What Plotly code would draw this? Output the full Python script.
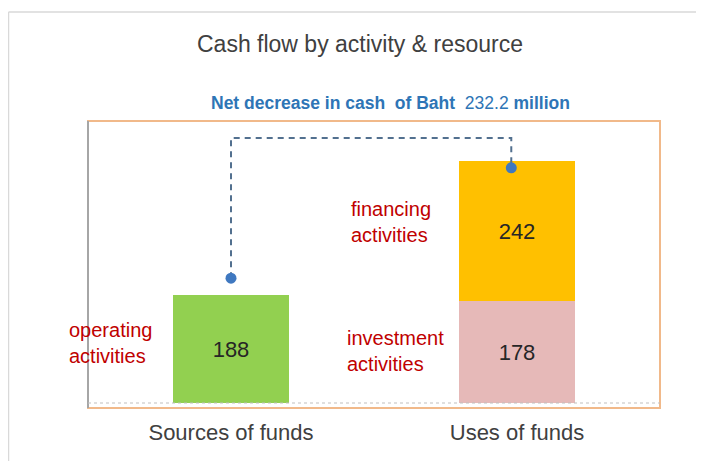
import plotly.graph_objects as go

# ---- data ----
categories = ["Sources of funds", "Uses of funds"]
cat_pos = [0, 1]
operating = [188]
investment = [178]
financing = [242]
segment_labels = ["operating<br>activities", "investment<br>activities", "financing<br>activities"]
title_text = "Cash flow by activity &amp; resource"
subtitle_text = "<b>Net decrease in cash  of Baht </b> 232.2 <b>million</b>"
connector_x = [0, 0, 0.98, 0.98]
connector_y = [217, 461, 461, 409]

FONT = "Liberation Sans"
TXT = "#262626"

fig = go.Figure()
fig.add_trace(go.Bar(x=[cat_pos[0]], y=operating, marker=dict(color="#92D050", line_width=0),
                     width=0.405, text=operating, textposition="inside", insidetextanchor="middle",
                     textfont=dict(size=22, color=TXT, family=FONT), textangle=0,
                     hoverinfo="skip", showlegend=False))
fig.add_trace(go.Bar(x=[cat_pos[1]], y=investment, marker=dict(color="#E6B9B8", line_width=0),
                     width=0.405, text=investment, textposition="inside", insidetextanchor="middle",
                     textfont=dict(size=22, color=TXT, family=FONT), textangle=0,
                     hoverinfo="skip", showlegend=False))
fig.add_trace(go.Bar(x=[cat_pos[1]], y=financing, marker=dict(color="#FFC000", line_width=0),
                     width=0.405, text=financing, textposition="inside", insidetextanchor="middle",
                     textfont=dict(size=22, color=TXT, family=FONT), textangle=0,
                     hoverinfo="skip", showlegend=False))

# connector
fig.add_trace(go.Scatter(x=connector_x, y=connector_y, mode="lines",
                         line=dict(color="#52708F", width=2, dash="6px,5px"),
                         hoverinfo="skip", showlegend=False, cliponaxis=False))
fig.add_trace(go.Scatter(x=[connector_x[0], connector_x[-1]], y=[connector_y[0], connector_y[-1]],
                         mode="markers", marker=dict(color="#3F78C0", size=11),
                         hoverinfo="skip", showlegend=False, cliponaxis=False))

# px helpers in window coordinates (page body has an 8px margin); plot area x:88..660, y:121..408
def px(xp):
    return (xp - 88) / 572
def py(yp):
    return (408 - yp) / 287

shapes = [
    # outer frame
    dict(type="line", xref="paper", yref="paper", x0=px(8.5), x1=px(704), y0=py(12), y1=py(12),
         line=dict(color="#D9D9D9", width=1.5)),
    dict(type="line", xref="paper", yref="paper", x0=px(8.5), x1=px(8.5), y0=py(12), y1=py(461),
         line=dict(color="#D9D9D9", width=1.5)),
    # plot frame
    dict(type="rect", xref="paper", yref="paper", x0=0, x1=1, y0=0, y1=1,
         line=dict(color="#F1B98A", width=2)),
    dict(type="line", xref="paper", yref="paper", x0=0, x1=0, y0=0, y1=1,
         line=dict(color="#A6A6A6", width=2)),
    # baseline
    dict(type="line", xref="paper", yref="y", x0=0, x1=1, y0=0, y1=0,
         line=dict(color="#BFBFBF", width=1, dash="dot")),
]

annotations = [
    dict(text=title_text, xref="paper", yref="paper", x=px(360), y=py(44), showarrow=False,
         xanchor="center", yanchor="middle", font=dict(size=23, color="#404040", family=FONT)),
    dict(text=subtitle_text, xref="paper", yref="paper", x=px(390), y=py(103), showarrow=False,
         xanchor="center", yanchor="middle", font=dict(size=17.5, color="#2E75B6", family=FONT)),
    dict(text=segment_labels[0], xref="paper", yref="y", x=px(67), y=104, showarrow=False,
         xanchor="left", yanchor="middle", align="left",
         font=dict(size=20, color="#C00000", family=FONT)),
    dict(text=segment_labels[1], xref="x", yref="y", x=0.40, y=90, showarrow=False,
         xanchor="left", yanchor="middle", align="left",
         font=dict(size=20, color="#C00000", family=FONT)),
    dict(text=segment_labels[2], xref="x", yref="y", x=0.412, y=315, showarrow=False,
         xanchor="left", yanchor="middle", align="left",
         font=dict(size=20, color="#C00000", family=FONT)),
]

fig.update_layout(
    width=696, height=453, autosize=False,
    margin=dict(l=80, r=44, t=113, b=53),
    paper_bgcolor="white", plot_bgcolor="white",
    barmode="stack", bargap=0,
    shapes=shapes, annotations=annotations,
    font=dict(family=FONT),
    xaxis=dict(range=[-0.5, 1.5], tickvals=cat_pos, ticktext=categories, showgrid=False,
               zeroline=False, showline=False, ticks="", ticklabelstandoff=9,
               tickfont=dict(size=22, color="#404040", family=FONT), fixedrange=True),
    yaxis=dict(range=[-8.7, 490.4], visible=False, showgrid=False, zeroline=False, fixedrange=True),
    uniformtext=dict(mode=False),
)

fig.write_html("out.html")
